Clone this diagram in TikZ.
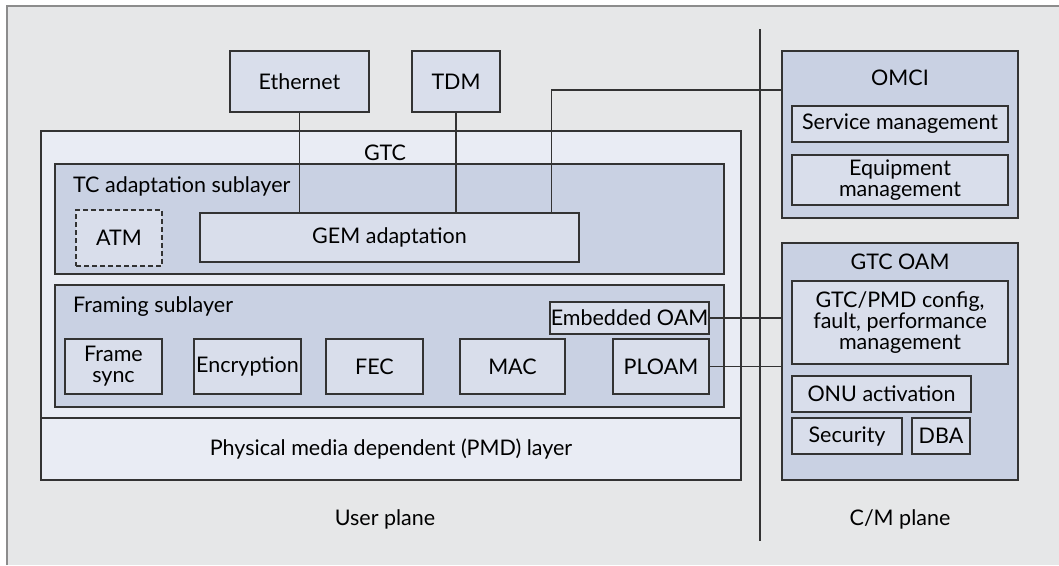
\documentclass[tikz,border=0pt]{standalone}
\usepackage{fontspec}
\setmainfont{Lato}
\usetikzlibrary{positioning, calc}
\definecolor{gponbg}{HTML}{E6E7E8}
\definecolor{gponframe}{HTML}{8C8C8C}
\definecolor{gponline}{HTML}{333333}
\definecolor{gponpale}{HTML}{E9ECF4}
\definecolor{gponmid}{HTML}{C9D1E3}
\definecolor{gponbox}{HTML}{D9DEEB}
\begin{document}
\begin{tikzpicture}[x=1pt, y=-1pt, font=\fontsize{21.5}{21}\selectfont,
  box/.style={draw=gponline, line width=1.4pt, fill=gponbox, inner sep=0pt, align=center},
  layer/.style={draw=gponline, line width=1.4pt, fill=gponmid, inner sep=0pt},
  pale/.style={draw=gponline, line width=1.4pt, fill=gponpale, inner sep=0pt},
  lbl/.style={inner sep=0pt, text=black},
  link/.style={draw=gponline, line width=1.4pt}]
  \useasboundingbox (0,0) rectangle (1059,565);
  \fill[gponbg] (7,6) rectangle (1059,565);
  \draw[gponframe, line width=2pt] (7,565) -- (7,6) -- (1059,6);
  \node[box, minimum width=139pt, minimum height=61pt] (eth) at (299.5,81.5) {Ethernet};
  \node[box, minimum width=88pt, minimum height=61pt] (tdm) at (456,81.5) {TDM};
  \node[pale, minimum width=700pt, minimum height=349pt] (gtc) at (391,305.5) {};
  \node[lbl] (gtclbl) at (385,153) {GTC};
  \node[layer, minimum width=669pt, minimum height=110pt] (tcsub) at (389.5,219) {};
  \node[lbl, anchor=west] (tclbl) at (73,186) {TC adaptation sublayer};
  \node[box, dash pattern=on 5pt off 3pt, minimum width=86pt, minimum height=56pt] (atm) at (119,238) {ATM};
  \node[box, minimum width=379pt, minimum height=49pt] (gem) at (389.5,237.5) {GEM adaptation};
  \node[layer, minimum width=669pt, minimum height=122pt] (frsub) at (389.5,346) {};
  \node[lbl, anchor=west] (frlbl) at (73,307) {Framing sublayer};
  \node[box, minimum width=97pt, minimum height=55pt] (fsync) at (113.5,366.5) {Frame\\sync};
  \node[box, minimum width=107pt, minimum height=55pt] (encr) at (247.5,366.5) {Encryption};
  \node[box, minimum width=97pt, minimum height=55pt] (fec) at (374.5,366.5) {FEC};
  \node[box, minimum width=105pt, minimum height=55pt] (mac) at (512.5,366.5) {MAC};
  \node[box, minimum width=96pt, minimum height=55pt] (ploam) at (661,366.5) {PLOAM};
  \node[box, minimum width=159pt, minimum height=32pt] (eoam) at (629.5,318) {Embedded OAM};
  \node[pale, minimum width=700pt, minimum height=62pt] (pmd) at (391,449) {Physical media dependent (PMD) layer};
  \draw[gponline, line width=2.6pt] (760,29) -- (760,541);
  \node[layer, minimum width=236pt, minimum height=167pt] (omci) at (900,134.5) {};
  \node[lbl] (omcilbl) at (900,78) {OMCI};
  \node[box, minimum width=216pt, minimum height=36pt] (svc) at (900,124) {Service management};
  \node[box, minimum width=216pt, minimum height=50pt] (equip) at (900,180) {Equipment\\management};
  \node[layer, minimum width=236pt, minimum height=237pt] (oam) at (900,361.5) {};
  \node[lbl] (oamlbl) at (900,262) {GTC OAM};
  \node[box, minimum width=216pt, minimum height=83pt] (gpmd) at (900,322.5) {GTC/PMD config,\\fault, performance\\management};
  \node[box, minimum width=179pt, minimum height=36pt] (onu) at (881.5,394) {ONU activation};
  \node[box, minimum width=110pt, minimum height=36pt] (sec) at (847,436) {Security};
  \node[box, minimum width=58pt, minimum height=36pt] (dba) at (941,436) {DBA};
  \node[lbl] (uplane) at (385,519) {User plane};
  \node[lbl] (cmplane) at (900,519) {C/M plane};
  \draw[link] (eth.south) -- (eth.south |- gem.north);
  \draw[link] (tdm.south) -- (tdm.south |- gem.north);
  \draw[link] ([xshift=-28pt]gem.north east) |- ([yshift=44.5pt]omci.west);
  \draw[link] (eoam.east) -- (eoam.east -| oam.west);
  \draw[link] (ploam.east) -- (ploam.east -| oam.west);
\end{tikzpicture}
\end{document}
